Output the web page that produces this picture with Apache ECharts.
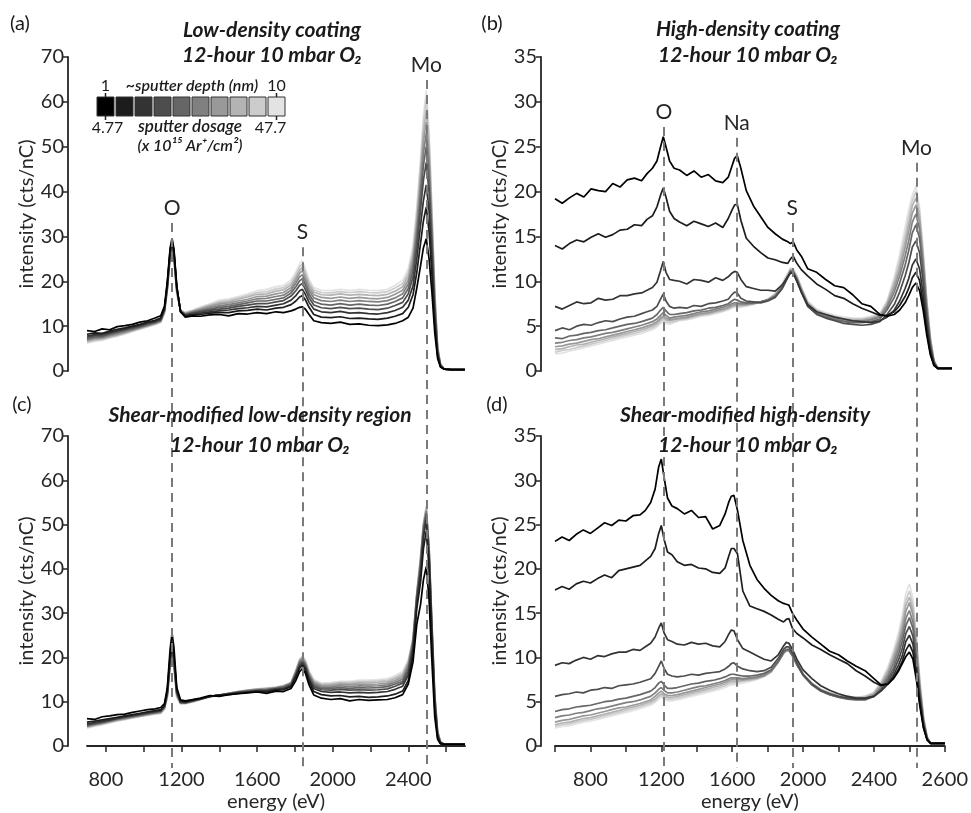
<!DOCTYPE html>
<html><head><meta charset="utf-8">
<script src="https://cdn.jsdelivr.net/npm/echarts@6/dist/echarts.min.js"></script>
<style>html,body{margin:0;padding:0;background:#fff}#c{width:971px;height:813px}</style>
</head><body><div id="c"></div>
<script>
const FONT = 'Lato, "Open Sans", "Noto Sans", sans-serif';
const GRAYS = ['#000000','#1c1c1c','#333333','#4d4d4d','#666666','#808080','#999999','#b3b3b3','#cccccc','#e3e3e3'];

// ---- left panels (a),(c): energy grid (eV)
const xL = [700,740,780,820,860,900,940,980,1020,1060,
  1090,1110,1125,1140,1150,1160,1175,1195,1220,1260,
  1300,1350,1400,1450,1500,1550,1600,1650,1700,1740,
  1780,1805,1825,1840,1855,1875,1900,1940,1990,2040,
  2090,2140,2190,2240,2290,2330,2370,2400,2425,2445,
  2465,2480,2495,2510,2525,2540,2555,2570,2590,2630,
  2700];

// (a) Low-density coating
const a0 = [9.0,8.8,9.4,9.2,9.9,10.1,10.4,10.9,11.2,11.8,
  12.3,14.5,20.0,27.5,29.6,27.2,19.0,13.2,12.0,12.3,
  12.2,12.5,12.6,12.3,12.8,12.7,13.0,12.8,13.2,13.0,
  13.4,13.8,14.2,14.3,13.8,12.6,11.2,10.8,10.6,10.9,
  10.4,10.5,10.2,10.1,10.3,10.6,11.2,12.0,14.0,18.5,
  23.5,27.5,29.5,25.0,17.5,8.5,2.8,0.9,0.4,0.3,
  0.3];
const a1 = [8.2,8.5,8.4,8.9,9.3,9.6,10.0,10.4,10.9,11.3,
  11.8,14.0,19.5,27.0,29.0,26.8,18.8,13.2,12.2,12.5,
  12.6,12.9,13.0,13.0,13.4,13.5,13.8,13.6,14.0,14.2,
  14.8,15.6,16.5,16.8,15.9,14.2,12.6,12.0,11.9,12.1,
  11.7,11.8,11.6,11.5,11.8,12.2,12.8,14.2,17.0,22.0,
  28.5,33.5,36.5,31.0,21.5,10.5,3.4,1.0,0.4,0.3,
  0.3];
const a2 = [7.8,8.1,8.2,8.6,9.0,9.4,9.8,10.2,10.7,11.1,
  11.6,13.8,19.2,26.6,28.6,26.4,18.6,13.3,12.4,12.7,
  12.9,13.2,13.4,13.6,13.9,14.1,14.4,14.3,14.7,15.0,
  15.8,16.8,17.9,18.2,17.1,15.3,13.8,13.2,13.0,13.3,
  12.9,13.0,12.8,12.7,13.0,13.5,14.2,15.8,19.0,25.0,
  32.5,38.0,41.5,35.5,24.5,12.0,3.8,1.1,0.4,0.3,
  0.3];
const a3 = [7.5,7.9,7.9,8.4,8.8,9.2,9.6,10.0,10.5,10.9,
  11.4,13.6,19.0,26.4,28.3,26.1,18.4,13.3,12.5,12.9,
  13.2,13.5,13.8,14.0,14.4,14.7,15.0,15.0,15.4,15.7,
  16.7,17.9,19.1,19.5,18.2,16.3,14.7,14.1,13.9,14.2,
  13.9,14.0,13.8,13.7,14.0,14.6,15.3,17.2,21.0,27.5,
  36.0,42.5,46.5,39.8,27.3,13.5,4.2,1.2,0.4,0.3,
  0.3];
const a4 = [7.2,7.6,7.7,8.2,8.6,9.0,9.4,9.8,10.3,10.8,
  11.3,13.5,18.8,26.2,28.0,25.9,18.2,13.3,12.6,13.0,
  13.4,13.8,14.2,14.4,14.8,15.2,15.6,15.6,16.0,16.3,
  17.4,18.8,20.1,20.6,19.2,17.1,15.5,14.9,14.7,15.0,
  14.7,14.9,14.7,14.6,14.9,15.5,16.3,18.4,22.5,29.5,
  38.5,45.8,50.0,42.8,29.3,14.5,4.5,1.3,0.4,0.3,
  0.3];
const a5 = [7.0,7.4,7.5,8.0,8.4,8.8,9.3,9.7,10.2,10.7,
  11.2,13.4,18.6,26.0,27.8,25.7,18.0,13.4,12.7,13.2,
  13.6,14.1,14.5,14.8,15.2,15.6,16.1,16.2,16.6,16.9,
  18.0,19.6,21.0,21.5,20.0,17.9,16.3,15.7,15.5,15.8,
  15.5,15.7,15.5,15.4,15.7,16.3,17.2,19.4,24.0,31.0,
  40.5,48.5,53.0,45.5,31.0,15.4,4.8,1.4,0.4,0.3,
  0.3];
const a6 = [6.8,7.2,7.3,7.8,8.2,8.6,9.1,9.6,10.1,10.6,
  11.1,13.2,18.4,25.7,27.5,25.4,17.8,13.4,12.8,13.3,
  13.8,14.4,14.9,15.2,15.6,16.0,16.6,16.7,17.2,17.5,
  18.6,20.3,21.8,22.4,20.8,18.6,17.0,16.4,16.2,16.5,
  16.2,16.4,16.2,16.1,16.4,17.1,18.0,20.3,25.0,32.5,
  42.5,51.0,55.5,47.6,32.5,16.2,5.0,1.5,0.4,0.3,
  0.3];
const a7 = [6.6,7.0,7.2,7.6,8.0,8.5,9.0,9.5,10.0,10.5,
  11.0,13.1,18.2,25.5,27.2,25.1,17.6,13.5,12.9,13.4,
  13.9,14.6,15.2,15.5,16.0,16.5,17.1,17.2,17.8,18.1,
  19.2,20.9,22.5,23.1,21.5,19.3,17.6,17.0,16.9,17.2,
  16.9,17.1,16.9,16.8,17.1,17.8,18.8,21.2,26.0,34.0,
  44.5,53.0,58.0,49.8,34.0,17.0,5.3,1.6,0.4,0.3,
  0.3];
const a8 = [6.4,6.8,7.0,7.5,7.9,8.4,8.9,9.4,9.9,10.4,
  10.9,13.0,18.0,25.2,26.9,24.8,17.4,13.5,13.0,13.5,
  14.1,14.8,15.5,15.8,16.3,16.8,17.5,17.7,18.3,18.6,
  19.7,21.5,23.2,23.8,22.1,19.8,18.1,17.5,17.4,17.7,
  17.5,17.7,17.5,17.4,17.7,18.5,19.5,22.0,27.0,35.5,
  46.0,55.3,60.5,51.9,35.5,17.7,5.5,1.6,0.4,0.3,
  0.3];
const a9 = [6.2,6.6,6.8,7.3,7.7,8.2,8.8,9.3,9.8,10.3,
  10.8,12.9,17.8,25.0,26.5,24.5,17.2,13.5,13.1,13.6,
  14.3,15.0,15.8,16.1,16.6,17.2,17.9,18.2,18.8,19.1,
  20.3,22.1,23.9,24.6,22.8,20.4,18.6,18.0,17.9,18.2,
  18.0,18.2,18.0,17.9,18.2,19.1,20.2,22.8,28.0,36.5,
  47.5,57.0,62.5,53.6,36.6,18.3,5.7,1.7,0.4,0.3,
  0.3];

// (c) Shear-modified low-density region
const c0 = [6.2,6.0,6.6,6.8,7.1,7.2,7.6,7.9,8.2,8.4,
  8.7,9.6,13.2,22.0,25.5,22.3,13.2,10.4,10.2,10.5,
  10.8,11.4,11.2,11.6,11.8,12.0,12.2,11.9,12.4,12.3,
  13.0,14.8,16.8,17.5,16.5,13.8,11.5,10.8,10.5,10.7,
  10.2,10.5,10.3,10.4,10.5,10.9,11.6,14.0,19.0,27.5,
  32.0,37.5,40.5,33.0,19.0,6.5,1.5,0.5,0.4,0.4,
  0.4];
const c1 = [5.4,5.6,5.9,6.2,6.5,6.8,7.1,7.4,7.7,8.0,
  8.2,9.2,12.5,20.5,23.5,20.6,12.6,10.1,10.0,10.4,
  10.7,11.2,11.5,11.6,11.9,12.1,12.3,12.2,12.6,12.7,
  13.4,15.6,17.6,18.2,17.2,14.6,12.3,11.6,11.3,11.4,
  11.1,11.2,11.0,11.1,11.3,11.7,12.4,14.8,20.5,31.0,
  37.0,44.5,48.5,40.0,23.5,8.5,2.0,0.6,0.4,0.4,
  0.4];
const c2 = [5.0,5.3,5.6,5.9,6.3,6.6,6.9,7.2,7.5,7.8,
  8.0,9.0,12.2,19.8,22.5,19.8,12.3,10.0,9.9,10.3,
  10.7,11.2,11.5,11.7,12.0,12.2,12.4,12.4,12.8,12.9,
  13.6,15.9,18.0,18.6,17.6,15.0,13.0,12.3,12.1,12.2,
  12.0,12.1,12.0,12.1,12.3,12.8,13.5,16.0,21.8,32.5,
  39.0,47.0,51.0,42.2,25.0,9.5,2.3,0.7,0.4,0.4,
  0.4];
const c3 = [4.8,5.1,5.4,5.8,6.2,6.5,6.8,7.1,7.4,7.7,
  7.9,8.9,12.0,19.4,22.0,19.4,12.1,9.9,9.8,10.2,
  10.6,11.2,11.5,11.8,12.1,12.3,12.5,12.6,12.9,13.1,
  13.8,16.2,18.4,19.0,18.0,15.4,13.4,12.7,12.6,12.8,
  12.6,12.7,12.6,12.7,12.9,13.5,14.2,16.8,22.6,33.3,
  40.0,48.0,52.0,43.0,25.8,10.0,2.5,0.8,0.4,0.4,
  0.4];
const c4 = [4.6,5.0,5.3,5.7,6.1,6.4,6.7,7.0,7.3,7.6,
  7.8,8.8,11.8,19.1,21.6,19.1,11.9,9.8,9.8,10.2,
  10.6,11.2,11.5,11.8,12.2,12.4,12.6,12.7,13.0,13.3,
  14.0,16.4,18.7,19.3,18.3,15.8,13.8,13.0,13.0,13.2,
  13.0,13.2,13.1,13.2,13.4,14.0,14.6,17.5,23.2,33.6,
  41.0,48.8,52.5,43.6,26.4,10.6,2.8,0.8,0.4,0.4,
  0.4];
const c5 = [4.5,4.9,5.2,5.6,6.0,6.3,6.6,6.9,7.2,7.5,
  7.7,8.7,11.6,18.8,21.3,18.8,11.7,9.7,9.7,10.1,
  10.6,11.2,11.5,11.9,12.2,12.5,12.7,12.8,13.1,13.4,
  14.1,16.6,19.0,19.6,18.6,16.1,14.1,13.3,13.3,13.6,
  13.4,13.6,13.5,13.6,13.8,14.4,15.1,18.0,23.6,34.0,
  41.6,49.4,53.0,44.2,27.0,11.0,3.0,0.9,0.4,0.4,
  0.4];
const c6 = [4.4,4.8,5.1,5.5,5.9,6.2,6.5,6.8,7.1,7.4,
  7.6,8.6,11.4,18.5,21.0,18.5,11.5,9.7,9.7,10.1,
  10.6,11.2,11.5,11.9,12.3,12.5,12.8,12.9,13.2,13.5,
  14.2,16.8,19.2,19.8,18.8,16.3,14.4,13.6,13.6,13.9,
  13.8,14.0,13.9,14.0,14.2,14.8,15.6,18.5,23.9,34.2,
  42.0,49.7,53.3,44.5,27.4,11.4,3.2,0.9,0.4,0.4,
  0.4];
const c7 = [4.3,4.7,5.0,5.4,5.8,6.1,6.4,6.7,7.0,7.3,
  7.5,8.5,11.2,18.2,20.7,18.2,11.3,9.6,9.6,10.0,
  10.5,11.2,11.5,11.9,12.3,12.6,12.8,13.0,13.2,13.6,
  14.3,17.0,19.4,20.0,19.0,16.5,14.6,13.8,13.9,14.2,
  14.1,14.3,14.3,14.4,14.6,15.2,16.0,18.9,24.2,34.4,
  42.4,50.0,53.6,44.8,27.7,11.7,3.3,1.0,0.4,0.4,
  0.4];
const c8 = [4.2,4.6,4.9,5.3,5.7,6.0,6.4,6.7,7.0,7.3,
  7.4,8.4,11.0,18.0,20.4,18.0,11.1,9.6,9.6,10.0,
  10.5,11.1,11.4,11.9,12.3,12.6,12.9,13.0,13.3,13.6,
  14.4,17.1,19.6,20.2,19.2,16.8,14.8,14.0,14.1,14.4,
  14.4,14.6,14.6,14.7,14.9,15.5,16.4,19.2,24.4,34.6,
  42.8,50.3,54.0,45.0,28.0,12.0,3.4,1.0,0.4,0.4,
  0.4];
const c9 = [4.0,4.4,4.8,5.2,5.6,5.9,6.3,6.6,6.9,7.2,
  7.3,8.3,10.8,17.6,20.0,17.6,10.9,9.5,9.5,9.9,
  10.4,11.0,11.4,11.9,12.3,12.6,12.9,13.1,13.3,13.7,
  14.0,16.5,19.2,20.4,19.5,17.0,15.0,14.2,14.3,14.6,
  14.6,14.9,14.9,15.0,15.2,15.9,16.8,19.5,24.5,34.8,
  43.0,50.0,54.3,45.0,28.0,12.0,3.5,1.0,0.4,0.4,
  0.4];

// ---- right panels (b),(d): energy grid (eV)
const xR = [600,640,680,720,760,800,840,880,920,960,
  1000,1040,1080,1110,1140,1165,1185,1200,1215,1235,
  1260,1290,1330,1370,1410,1450,1490,1530,1560,1580,
  1595,1610,1630,1660,1700,1740,1780,1820,1860,1890,
  1905,1920,1940,1965,2000,2050,2100,2150,2200,2250,
  2300,2350,2400,2440,2480,2510,2540,2560,2580,2600,
  2620,2640,2660,2680,2700,2720,2750,2800];

// (b) High-density coating
const b0 = [19.2,18.7,19.3,19.8,19.4,20.3,20.1,20.0,20.9,20.5,
  21.3,21.5,21.2,22.0,22.6,23.4,25.0,26.1,25.0,23.4,
  22.6,22.4,21.8,22.3,21.6,21.9,21.2,21.0,21.6,22.8,
  23.7,24.0,22.6,20.1,18.4,17.2,16.0,15.3,14.7,14.4,
  14.2,14.4,13.5,12.8,11.4,11.0,10.2,9.5,9.3,8.5,
  7.5,7.2,6.3,6.1,6.3,6.8,7.6,8.4,9.3,9.8,
  9.0,6.8,4.0,1.8,0.6,0.3,0.3,0.3];
const b1 = [14.0,13.6,14.2,14.6,14.4,14.9,15.3,14.9,15.2,15.7,
  15.8,16.3,16.2,16.9,17.3,18.3,19.6,20.4,19.4,17.8,
  17.0,16.6,16.2,16.7,16.4,16.1,16.5,16.0,17.0,17.9,
  18.5,18.6,16.8,14.8,13.9,13.2,12.6,12.4,12.1,12.0,
  12.5,12.8,12.0,11.3,10.6,9.7,9.1,8.4,8.1,7.5,
  7.0,6.6,6.2,6.2,6.6,7.3,8.3,9.2,10.4,11.0,
  10.1,7.6,4.5,2.0,0.7,0.3,0.3,0.3];
const b2 = [7.2,6.9,7.3,7.7,7.5,7.6,8.1,7.9,8.0,8.4,
  8.4,8.6,8.7,9.0,9.3,9.9,11.2,12.2,11.0,10.2,
  10.1,10.0,9.7,10.2,10.1,9.9,10.4,10.1,10.5,10.9,
  11.1,11.0,10.2,9.4,9.2,9.0,9.0,8.9,9.6,10.5,
  10.9,10.9,10.0,8.8,7.4,6.6,6.3,6.0,5.8,5.6,
  5.5,5.4,5.6,6.0,6.8,7.8,9.2,10.3,11.8,12.5,
  11.4,8.6,5.1,2.3,0.8,0.3,0.3,0.3];
const b3 = [4.5,4.8,4.6,5.0,5.2,5.1,5.4,5.6,5.5,5.8,
  6.0,6.1,6.4,6.6,6.8,7.2,8.0,8.6,7.8,7.2,
  7.0,7.1,7.0,7.3,7.2,7.5,7.6,7.8,8.0,8.5,
  8.8,8.7,8.1,7.8,7.7,7.6,7.8,8.2,9.2,10.4,
  11.0,11.0,10.1,8.8,7.2,6.3,5.9,5.6,5.3,5.2,
  5.1,5.2,5.5,6.3,7.4,8.8,10.6,12.0,13.8,14.5,
  13.2,9.9,5.9,2.7,0.9,0.3,0.3,0.3];
const b4 = [3.7,3.6,3.9,4.0,4.2,4.3,4.5,4.6,4.8,5.0,
  5.2,5.3,5.5,5.7,5.9,6.3,6.8,7.1,6.7,6.3,
  6.3,6.4,6.5,6.7,6.8,7.0,7.1,7.3,7.5,7.8,
  8.0,7.9,7.7,7.6,7.6,7.7,7.9,8.3,9.3,10.5,
  11.1,11.0,10.2,8.9,7.3,6.4,6.0,5.7,5.5,5.4,
  5.4,5.5,5.8,6.8,8.2,9.8,11.8,13.4,15.4,16.3,
  14.8,11.0,6.6,3.0,1.0,0.3,0.3,0.3];
const b5 = [3.1,3.2,3.4,3.5,3.7,3.8,4.0,4.2,4.3,4.5,
  4.7,4.9,5.1,5.3,5.5,5.8,6.2,6.5,6.2,5.9,
  6.0,6.1,6.2,6.4,6.6,6.7,6.9,7.1,7.3,7.5,
  7.6,7.6,7.5,7.5,7.6,7.7,7.9,8.4,9.4,10.6,
  11.2,11.1,10.3,9.0,7.4,6.5,6.1,5.8,5.6,5.5,
  5.5,5.7,6.0,7.1,8.8,10.6,12.8,14.5,16.6,17.5,
  15.8,11.8,7.0,3.2,1.0,0.3,0.3,0.3];
const b6 = [2.7,2.8,3.0,3.1,3.3,3.5,3.6,3.8,4.0,4.2,
  4.4,4.6,4.8,5.0,5.2,5.5,5.9,6.1,5.9,5.7,
  5.8,5.9,6.0,6.2,6.4,6.5,6.7,6.9,7.1,7.3,
  7.4,7.4,7.4,7.4,7.5,7.7,7.9,8.4,9.5,10.6,
  11.2,11.1,10.4,9.1,7.5,6.6,6.2,5.9,5.7,5.6,
  5.6,5.8,6.1,7.3,9.3,11.2,13.7,15.6,17.6,18.5,
  16.6,12.4,7.4,3.4,1.1,0.3,0.3,0.3];
const b7 = [2.4,2.5,2.7,2.9,3.0,3.2,3.4,3.6,3.8,4.0,
  4.2,4.4,4.6,4.8,5.0,5.3,5.7,5.9,5.7,5.6,
  5.7,5.8,5.9,6.1,6.3,6.4,6.6,6.8,7.0,7.2,
  7.3,7.3,7.3,7.4,7.5,7.7,8.0,8.5,9.6,10.7,
  11.3,11.2,10.5,9.2,7.6,6.7,6.3,6.0,5.8,5.7,
  5.7,5.9,6.2,7.5,9.7,11.8,14.4,16.4,18.4,19.3,
  17.3,12.9,7.7,3.6,1.1,0.3,0.3,0.3];
const b8 = [2.1,2.3,2.4,2.6,2.8,3.0,3.2,3.4,3.6,3.8,
  4.0,4.2,4.4,4.6,4.8,5.1,5.5,5.7,5.5,5.4,
  5.5,5.7,5.8,6.0,6.2,6.3,6.5,6.7,6.9,7.1,
  7.2,7.2,7.2,7.3,7.5,7.7,8.0,8.6,9.7,10.8,
  11.4,11.3,10.6,9.3,7.7,6.8,6.4,6.1,5.9,5.8,
  5.8,6.0,6.3,7.7,10.1,12.4,15.2,17.2,19.0,20.0,
  17.8,13.2,7.9,3.7,1.2,0.4,0.3,0.3];
const b9 = [1.9,2.0,2.2,2.4,2.6,2.8,3.0,3.2,3.4,3.6,
  3.8,4.0,4.2,4.4,4.6,4.9,5.3,5.5,5.3,5.2,
  5.4,5.6,5.7,5.9,6.1,6.2,6.4,6.6,6.8,7.0,
  7.1,7.1,7.1,7.2,7.4,7.7,8.0,8.7,9.8,10.9,
  11.5,11.4,10.7,9.4,7.8,6.9,6.5,6.2,6.0,5.9,
  5.9,6.1,6.4,7.8,10.5,13.0,16.0,18.0,19.6,20.6,
  18.3,13.5,8.0,3.8,1.2,0.4,0.3,0.3];

// (d) Shear-modified high-density
const d0 = [23.1,23.6,23.2,23.9,24.4,24.0,24.6,25.2,24.9,25.5,
  25.4,26.0,26.1,26.6,27.5,29.0,31.5,32.4,30.4,28.0,
  27.1,26.8,26.2,26.6,25.8,25.9,24.5,24.9,26.2,27.5,
  28.2,28.3,26.6,23.2,20.4,18.8,17.8,17.0,16.4,16.1,
  16.0,15.9,15.0,14.2,13.2,12.3,11.5,10.7,10.3,9.6,
  9.0,8.5,7.6,6.9,7.0,7.6,8.5,9.3,10.1,10.6,
  9.8,7.4,4.4,2.0,0.7,0.3,0.3,0.3];
const d1 = [17.6,18.0,17.7,18.3,18.6,18.4,18.9,19.3,19.0,19.8,
  20.0,20.2,20.4,20.9,21.4,22.3,24.0,24.9,23.4,21.9,
  21.6,20.8,20.4,20.5,20.1,20.0,19.6,19.5,20.1,21.4,
  22.3,22.3,21.7,17.5,15.8,15.5,15.2,14.8,14.3,14.0,
  14.3,14.4,13.3,12.7,12.2,11.4,10.9,10.3,9.8,9.3,
  8.5,7.9,7.2,6.8,7.0,7.7,8.7,9.6,10.8,11.5,
  10.6,8.0,4.7,2.1,0.7,0.3,0.3,0.3];
const d2 = [9.1,9.4,9.3,9.7,10.0,9.8,10.2,10.1,10.4,10.6,
  10.6,10.9,10.8,11.2,11.6,12.3,13.3,13.9,12.8,12.0,
  11.8,11.5,11.4,11.7,11.5,11.6,11.3,11.2,11.8,12.6,
  13.1,13.0,12.0,11.0,10.6,10.2,9.8,9.6,10.3,11.3,
  11.7,11.6,10.9,9.8,8.6,7.6,6.8,6.3,5.9,5.6,
  5.4,5.4,5.6,6.2,7.0,8.0,9.2,10.2,11.8,12.5,
  11.5,8.7,5.1,2.3,0.8,0.3,0.3,0.3];
const d3 = [5.6,5.8,5.9,6.1,6.0,6.3,6.4,6.6,6.5,6.8,
  6.9,7.0,7.2,7.4,7.6,8.2,9.0,9.6,8.8,8.1,
  7.9,7.8,7.9,8.1,8.0,8.2,8.3,8.4,8.7,9.0,
  9.3,9.4,9.0,8.7,8.5,8.4,8.5,8.9,9.9,10.9,
  11.2,11.2,10.5,9.4,8.1,7.0,6.3,5.9,5.6,5.4,
  5.3,5.3,5.6,6.3,7.3,8.4,9.8,11.0,12.7,13.5,
  12.4,9.3,5.5,2.5,0.8,0.3,0.3,0.3];
const d4 = [3.9,4.1,4.2,4.4,4.5,4.6,4.8,5.0,5.1,5.3,
  5.4,5.6,5.8,6.0,6.2,6.6,7.1,7.3,6.9,6.5,
  6.5,6.6,6.8,7.0,7.1,7.3,7.4,7.6,7.8,8.0,
  8.1,8.1,8.0,7.9,7.9,8.0,8.2,8.6,9.6,10.6,
  10.9,10.9,10.3,9.2,8.0,6.9,6.2,5.8,5.5,5.3,
  5.2,5.2,5.6,6.4,7.6,8.8,10.4,11.8,13.6,14.5,
  13.3,10.0,5.9,2.7,0.9,0.3,0.3,0.3];
const d5 = [3.2,3.4,3.5,3.7,3.8,4.0,4.2,4.3,4.5,4.7,
  4.9,5.0,5.2,5.4,5.6,6.0,6.4,6.6,6.3,6.0,
  6.0,6.1,6.3,6.5,6.7,6.8,7.0,7.2,7.4,7.6,
  7.7,7.7,7.7,7.6,7.7,7.8,8.0,8.5,9.5,10.5,
  10.8,10.8,10.2,9.2,8.0,6.9,6.2,5.8,5.5,5.4,
  5.3,5.3,5.7,6.6,7.9,9.3,11.0,12.5,14.4,15.3,
  14.0,10.5,6.2,2.8,0.9,0.3,0.3,0.3];
const d6 = [2.7,2.9,3.0,3.2,3.4,3.5,3.7,3.9,4.1,4.3,
  4.4,4.6,4.8,5.0,5.2,5.6,6.0,6.2,5.9,5.7,
  5.7,5.8,6.0,6.2,6.4,6.6,6.8,7.0,7.2,7.4,
  7.5,7.5,7.5,7.5,7.6,7.7,7.9,8.4,9.5,10.5,
  10.8,10.8,10.2,9.2,8.0,7.0,6.3,5.9,5.6,5.5,
  5.4,5.4,5.8,6.8,8.2,9.7,11.5,13.1,15.2,16.2,
  14.8,11.1,6.6,3.0,1.0,0.3,0.3,0.3];
const d7 = [2.4,2.6,2.7,2.9,3.1,3.2,3.4,3.6,3.8,4.0,
  4.2,4.4,4.6,4.8,5.0,5.3,5.7,5.9,5.7,5.5,
  5.5,5.6,5.8,6.0,6.2,6.4,6.6,6.8,7.0,7.2,
  7.3,7.3,7.3,7.4,7.5,7.6,7.9,8.4,9.5,10.5,
  10.8,10.8,10.2,9.3,8.1,7.1,6.4,6.0,5.7,5.6,
  5.5,5.5,5.9,7.0,8.5,10.1,12.0,13.7,15.9,16.8,
  15.4,11.5,6.8,3.1,1.0,0.3,0.3,0.3];
const d8 = [2.2,2.4,2.5,2.7,2.9,3.0,3.2,3.4,3.6,3.8,
  4.0,4.2,4.4,4.6,4.8,5.1,5.5,5.7,5.5,5.3,
  5.3,5.4,5.6,5.8,6.0,6.2,6.4,6.6,6.8,7.0,
  7.1,7.1,7.2,7.3,7.4,7.6,7.9,8.4,9.5,10.5,
  10.8,10.8,10.2,9.3,8.1,7.1,6.4,6.0,5.7,5.6,
  5.5,5.6,6.0,7.1,8.7,10.4,12.4,14.2,16.5,17.5,
  16.0,12.0,7.1,3.2,1.0,0.3,0.3,0.3];
const d9 = [2.0,2.2,2.3,2.5,2.7,2.8,3.0,3.2,3.4,3.6,
  3.8,4.0,4.2,4.4,4.6,4.9,5.3,5.5,5.3,5.1,
  5.1,5.2,5.4,5.6,5.8,6.0,6.2,6.4,6.6,6.8,
  6.9,6.9,7.0,7.1,7.3,7.5,7.8,8.3,9.4,10.4,
  10.7,10.7,10.1,9.2,8.1,7.1,6.4,6.0,5.7,5.6,
  5.5,5.6,6.1,7.3,9.0,10.8,12.9,14.8,17.2,18.3,
  16.7,12.5,7.4,3.3,1.1,0.3,0.3,0.3];

// axis ticks / labels
const leftTickValues = [800,1000,1200,1400,1600,1800,2000,2200,2400,2600];
const leftLabelValues = [800,1200,1600,2000,2400];
const rightTickValues = [600,800,1000,1200,1400,1600,1800,2000,2200,2400,2600,2800];
const rightLabelValues = [800,1200,1600,2000,2400,2800];
const rightTickLabels = ['800','1200','1600','2000','2400','2600'];

// peak markers
const leftPeakNames = ['O','S','Mo'];
const leftPeakEnergy = [1150,1840,2495];
const leftPeakTop = [33.0,27.6,64.9];
const rightPeakNames = ['O','Na','S','Mo'];
const rightPeakEnergy = [1203,1607,1915,2603];
const rightPeakTop = [27.2,26.0,16.5,23.2];

// legend
const depthLabels = ['1','10'];
const doseLabels = ['4.77','47.7'];

const panels = [
  {xs:xL, ys:[a0,a1,a2,a3,a4,a5,a6,a7,a8,a9]},
  {xs:xR, ys:[b0,b1,b2,b3,b4,b5,b6,b7,b8,b9]},
  {xs:xL, ys:[c0,c1,c2,c3,c4,c5,c6,c7,c8,c9]},
  {xs:xR, ys:[d0,d1,d2,d3,d4,d5,d6,d7,d8,d9]}
];

const AXC = '#262626';
const TXT = '#262626';
const grids = [
  {left:87, top:57, width:378, height:314},
  {left:555, top:57, width:397, height:314},
  {left:87, top:436, width:378, height:316},
  {left:555, top:436, width:397, height:316},
  {left:87, top:57, width:378, height:711},
  {left:555, top:57, width:397, height:711}
];

function xAx(gi, isLeft, show){
  return {type:'value', gridIndex:gi, min:isLeft?700:600, max:isLeft?2700:2800,
    splitLine:{show:false}, offset:16,
    axisLine:{show:show, lineStyle:{color:AXC, width:1.8}},
    axisTick:{show:show, length:6, lineStyle:{color:AXC, width:1.5},
      customValues: isLeft?leftTickValues:rightTickValues},
    axisLabel:{show:show, margin:8, color:TXT, fontFamily:FONT, fontSize:20,
      customValues: isLeft?leftLabelValues:rightLabelValues,
      formatter: v => isLeft ? String(v) : (rightTickLabels[rightLabelValues.indexOf(v)] || '')},
    name: show ? 'energy (eV)' : '', nameLocation:'middle', nameGap:30,
    nameTextStyle:{color:TXT, fontFamily:FONT, fontSize:20}
  };
}
function yAx(gi, isLeft){
  return {type:'value', gridIndex:gi, min:0, max:isLeft?70:35, interval:isLeft?10:5,
    offset:isLeft?19:14, splitLine:{show:false},
    axisLine:{show:true, lineStyle:{color:AXC, width:1.8}},
    axisTick:{show:true, length:5, lineStyle:{color:AXC, width:1.5}},
    axisLabel:{margin:4, color:TXT, fontFamily:FONT, fontSize:20},
    name:'intensity (cts/nC)', nameLocation:'middle', nameGap:isLeft?25:21, nameRotate:90,
    nameTextStyle:{color:TXT, fontFamily:FONT, fontSize:20}};
}

const xAxes = [xAx(0,true,false), xAx(1,false,false), xAx(2,true,true), xAx(3,false,true),
  {type:'value', gridIndex:4, min:700, max:2700, show:false},
  {type:'value', gridIndex:5, min:600, max:2800, show:false}];
const yAxes = [yAx(0,true), yAx(1,false), yAx(2,true), yAx(3,false),
  {type:'value', gridIndex:4, min:-88.5, max:70, show:false},
  {type:'value', gridIndex:5, min:-44.25, max:35, show:false}];

const series = [];
panels.forEach((p, gi) => {
  for (let k = 9; k >= 0; k--) {
    series.push({type:'line', xAxisIndex:gi, yAxisIndex:gi, silent:true, animation:false,
      showSymbol:false, symbol:'none', z:2,
      lineStyle:{color:GRAYS[k], width:1.7},
      data: p.xs.map((x, i) => [x, p.ys[k][i]])});
  }
});

function peakLines(gi, names, energies, tops, bottom){
  return {type:'line', xAxisIndex:gi, yAxisIndex:gi, data:[], silent:true, animation:false, z:5,
    markLine:{silent:true, symbol:'none', animation:false,
      lineStyle:{color:'#7a7a7a', width:2, type:[9,6]},
      label:{show:true, position:'start', distance:4, formatter:'{b}', color:TXT, fontFamily:FONT, fontSize:21},
      data: names.map((n, i) => [{name:n, coord:[energies[i], tops[i]]}, {coord:[energies[i], bottom]}])}};
}
series.push(peakLines(4, leftPeakNames, leftPeakEnergy, leftPeakTop, -88.5));
series.push(peakLines(5, rightPeakNames, rightPeakEnergy, rightPeakTop, -44.25));

// text & legend graphics
const titleStyle = {fontFamily:FONT, fontSize:21, fontWeight:'bold', fontStyle:'italic', fill:'#1a1a1a', textAlign:'center', textVerticalAlign:'middle'};
function txt(x, y, s, extra){ return {type:'text', x:x, y:y, z:10, style:Object.assign({}, titleStyle, {text:s}, extra||{})}; }
const plain = {fontWeight:'normal', fontStyle:'normal', fontSize:20};
const graphic = [
  txt(272, 30, 'Low-density coating'), txt(272, 55, '12-hour 10 mbar O₂'),
  txt(748, 29, 'High-density coating'), txt(748, 55, '12-hour 10 mbar O₂'),
  txt(260, 415, 'Shear-modified low-density region'), txt(260, 445, '12-hour 10 mbar O₂'),
  txt(745, 415, 'Shear-modified high-density'), txt(748, 445, '12-hour 10 mbar O₂'),
  txt(20, 24, '(a)', plain), txt(492, 24, '(b)', plain), txt(22, 405, '(c)', plain), txt(497, 405, '(d)', plain)
];
// colour bar legend
const lgX = 97, lgY = 97, lgW = 17, lgH = 19, lgStep = 19;
GRAYS.forEach((g, i) => {
  graphic.push({type:'rect', z:10, shape:{x:lgX + i*lgStep, y:lgY, width:lgW, height:lgH},
    style:{fill:g, stroke:'#333', lineWidth:1}});
});
[0, 9].forEach((i, j) => {
  const cx = lgX + i*lgStep + lgW/2;
  graphic.push({type:'line', z:10, shape:{x1:cx, y1:lgY-4, x2:cx, y2:lgY}, style:{stroke:'#222', lineWidth:1.5}});
  graphic.push({type:'line', z:10, shape:{x1:cx, y1:lgY+lgH, x2:cx, y2:lgY+lgH+4}, style:{stroke:'#222', lineWidth:1.5}});
  graphic.push(txt(cx, lgY-11, depthLabels[j], {fontWeight:'normal', fontStyle:'normal', fontSize:16}));
  graphic.push(txt(cx + (j?-6:2), lgY+lgH+12, doseLabels[j], {fontWeight:'normal', fontStyle:'normal', fontSize:16}));
});
graphic.push(txt(192, 86, '~sputter depth (nm)', {fontSize:16, fontWeight:600}));
graphic.push(txt(190, 127, 'sputter dosage', {fontSize:17, fontWeight:600}));
graphic.push(txt(190, 146, '(x 10¹⁵ Ar⁺/cm²)', {fontSize:16, fontWeight:600}));

const chart = echarts.init(document.getElementById('c'), null, {renderer:'canvas'});
chart.setOption({
  animation:false, backgroundColor:'#ffffff',
  grid: grids, xAxis: xAxes, yAxis: yAxes, series: series, graphic: graphic
});
</script></body></html>
